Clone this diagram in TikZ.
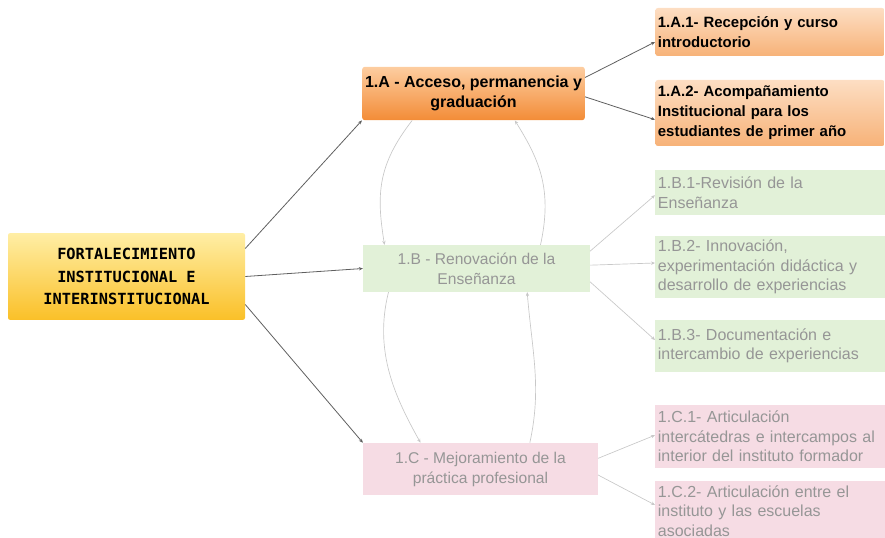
\documentclass[tikz,border=0pt]{standalone}
\usepackage{fontspec}
\setmainfont{Liberation Sans}
\newfontfamily\rootfont{DejaVu Sans Mono}
\usetikzlibrary{arrows.meta}

\definecolor{rootTop}{RGB}{255,238,165}
\definecolor{rootBot}{RGB}{250,192,40}
\definecolor{ejeTop}{RGB}{253,205,160}
\definecolor{ejeBot}{RGB}{243,140,55}
\definecolor{subTop}{RGB}{253,222,195}
\definecolor{subBot}{RGB}{247,178,120}
\definecolor{verdeFill}{RGB}{226,241,216}
\definecolor{rosaFill}{RGB}{246,220,228}
\definecolor{textoGris}{RGB}{150,150,150}
\definecolor{lineaOsc}{RGB}{95,95,95}
\definecolor{lineaClara}{RGB}{200,200,200}

\tikzset{
  rootbox/.style={rectangle, rounded corners=1.5pt, top color=rootTop, bottom color=rootBot,
    minimum width=177.75pt, minimum height=65pt, align=center,
    font=\rootfont\bfseries\fontsize{11.5}{17}\selectfont},
  ejebox/.style={rectangle, rounded corners=2pt, top color=ejeTop, bottom color=ejeBot,
    minimum height=40pt, align=center, inner xsep=2pt,
    font=\bfseries\fontsize{12}{15}\selectfont},
  subbox/.style={rectangle, rounded corners=2pt, top color=subTop, bottom color=subBot,
    anchor=west, text width=168pt, inner xsep=2pt, align=left,
    font=\bfseries\fontsize{11.2}{15}\selectfont},
  fadebox/.style={rectangle, align=center, text=textoGris,
    font=\fontsize{11.7}{15}\selectfont},
  fadesub/.style={rectangle, anchor=west, text width=168pt, inner xsep=2pt, align=left,
    text=textoGris, font=\fontsize{12}{14.6}\selectfont},
  conn/.style={draw=lineaOsc, line width=0.6pt, -{Stealth[length=3pt,width=2.5pt]}},
  fadeconn/.style={draw=lineaClara, line width=0.5pt, -{Stealth[length=3pt,width=2.5pt]}}
}

\begin{document}
\begin{tikzpicture}[x=0.75pt,y=0.75pt,yscale=-1,xscale=1]
\useasboundingbox (0,0) rectangle (885,538);

% Root
\node [rootbox] (root) at (126.5,276.5) {FORTALECIMIENTO\\INSTITUCIONAL E\\INTERINSTITUCIONAL};

% Ejes
\node [ejebox, minimum width=167pt] (ejeA) at (473.5,93.5) {1.A - Acceso, permanencia y\\graduación};
\node [fadebox, fill=verdeFill, minimum width=170pt, minimum height=35pt] (ejeB) at (476.5,268.5) {1.B - Renovación de la\\Enseñanza};
\node [fadebox, fill=rosaFill, minimum width=176pt, minimum height=39pt] (ejeC) at (480.5,469) {1.C - Mejoramiento de la\\práctica profesional};

% Lineas 1.A
\node [subbox, minimum height=36pt] (subA1) at (655,32) {1.A.1- Recepción y curso\\introductorio};
\node [subbox, minimum height=49.5pt] (subA2) at (655,113) {1.A.2- Acompañamiento\\Institucional para los\\estudiantes de primer año};

% Lineas 1.B
\node [fadesub, fill=verdeFill, minimum height=34pt] (subB1) at (655,192.5) {1.B.1-Revisión de la\\Enseñanza};
\node [fadesub, fill=verdeFill, minimum height=46.5pt] (subB2) at (655,267) {1.B.2- Innovación,\\experimentación didáctica y\\desarrollo de experiencias};
\node [fadesub, fill=verdeFill, minimum height=39pt] (subB3) at (655,346) {1.B.3- Documentación e\\intercambio de experiencias};

% Lineas 1.C
\node [fadesub, fill=rosaFill, minimum height=47pt] (subC1) at (655,436.5) {1.C.1- Articulación\\intercátedras e intercampos al\\interior del instituto formador};
\node [fadesub, fill=rosaFill, minimum height=40.5pt] (subC2) at (655,511) {1.C.2- Articulación entre el\\instituto y las escuelas\\asociadas};

% Conectores desde la raiz
\draw [conn] ([yshift=-21pt]root.east) -- (ejeA.south west);
\draw [conn] (root.east) -- (ejeB.west);
\draw [conn] ([yshift=21pt]root.east) -- (ejeC.north west);

% Conectores 1.A
\draw [conn] ([yshift=-12pt]ejeA.east) -- ([yshift=7.5pt]subA1.west);
\draw [conn] ([yshift=2.5pt]ejeA.east) -- ([yshift=5pt]subA2.west);

% Conectores 1.B
\draw [fadeconn] ([yshift=-13pt]ejeB.east) -- ([yshift=2pt]subB1.west);
\draw [fadeconn] ([yshift=-2.5pt]ejeB.east) -- ([yshift=-3pt]subB2.west);
\draw [fadeconn] ([yshift=10pt]ejeB.east) -- ([yshift=-4.5pt]subB3.west);

% Conectores 1.C
\draw [fadeconn] ([yshift=-8pt]ejeC.east) -- ([yshift=-1pt]subC1.west);
\draw [fadeconn] ([yshift=4.5pt]ejeC.east) -- ([yshift=-4.5pt]subC2.west);

% Arcos entre ejes
\draw [fadeconn] ([xshift=-46pt]ejeA.south) .. controls +(-35,45) and +(-8,-50) .. ([xshift=-69pt]ejeB.north);
\draw [fadeconn] ([xshift=48pt]ejeB.north) .. controls +(12,-55) and +(25,40) .. ([xshift=31pt]ejeA.south);
\draw [fadeconn] ([xshift=-66pt]ejeB.south) .. controls +(-15,60) and +(-25,-45) .. ([xshift=-45pt]ejeC.north);
\draw [fadeconn] ([xshift=37pt]ejeC.north) .. controls +(12,-55) and +(5,60) .. ([xshift=38pt]ejeB.south);

\end{tikzpicture}
\end{document}
